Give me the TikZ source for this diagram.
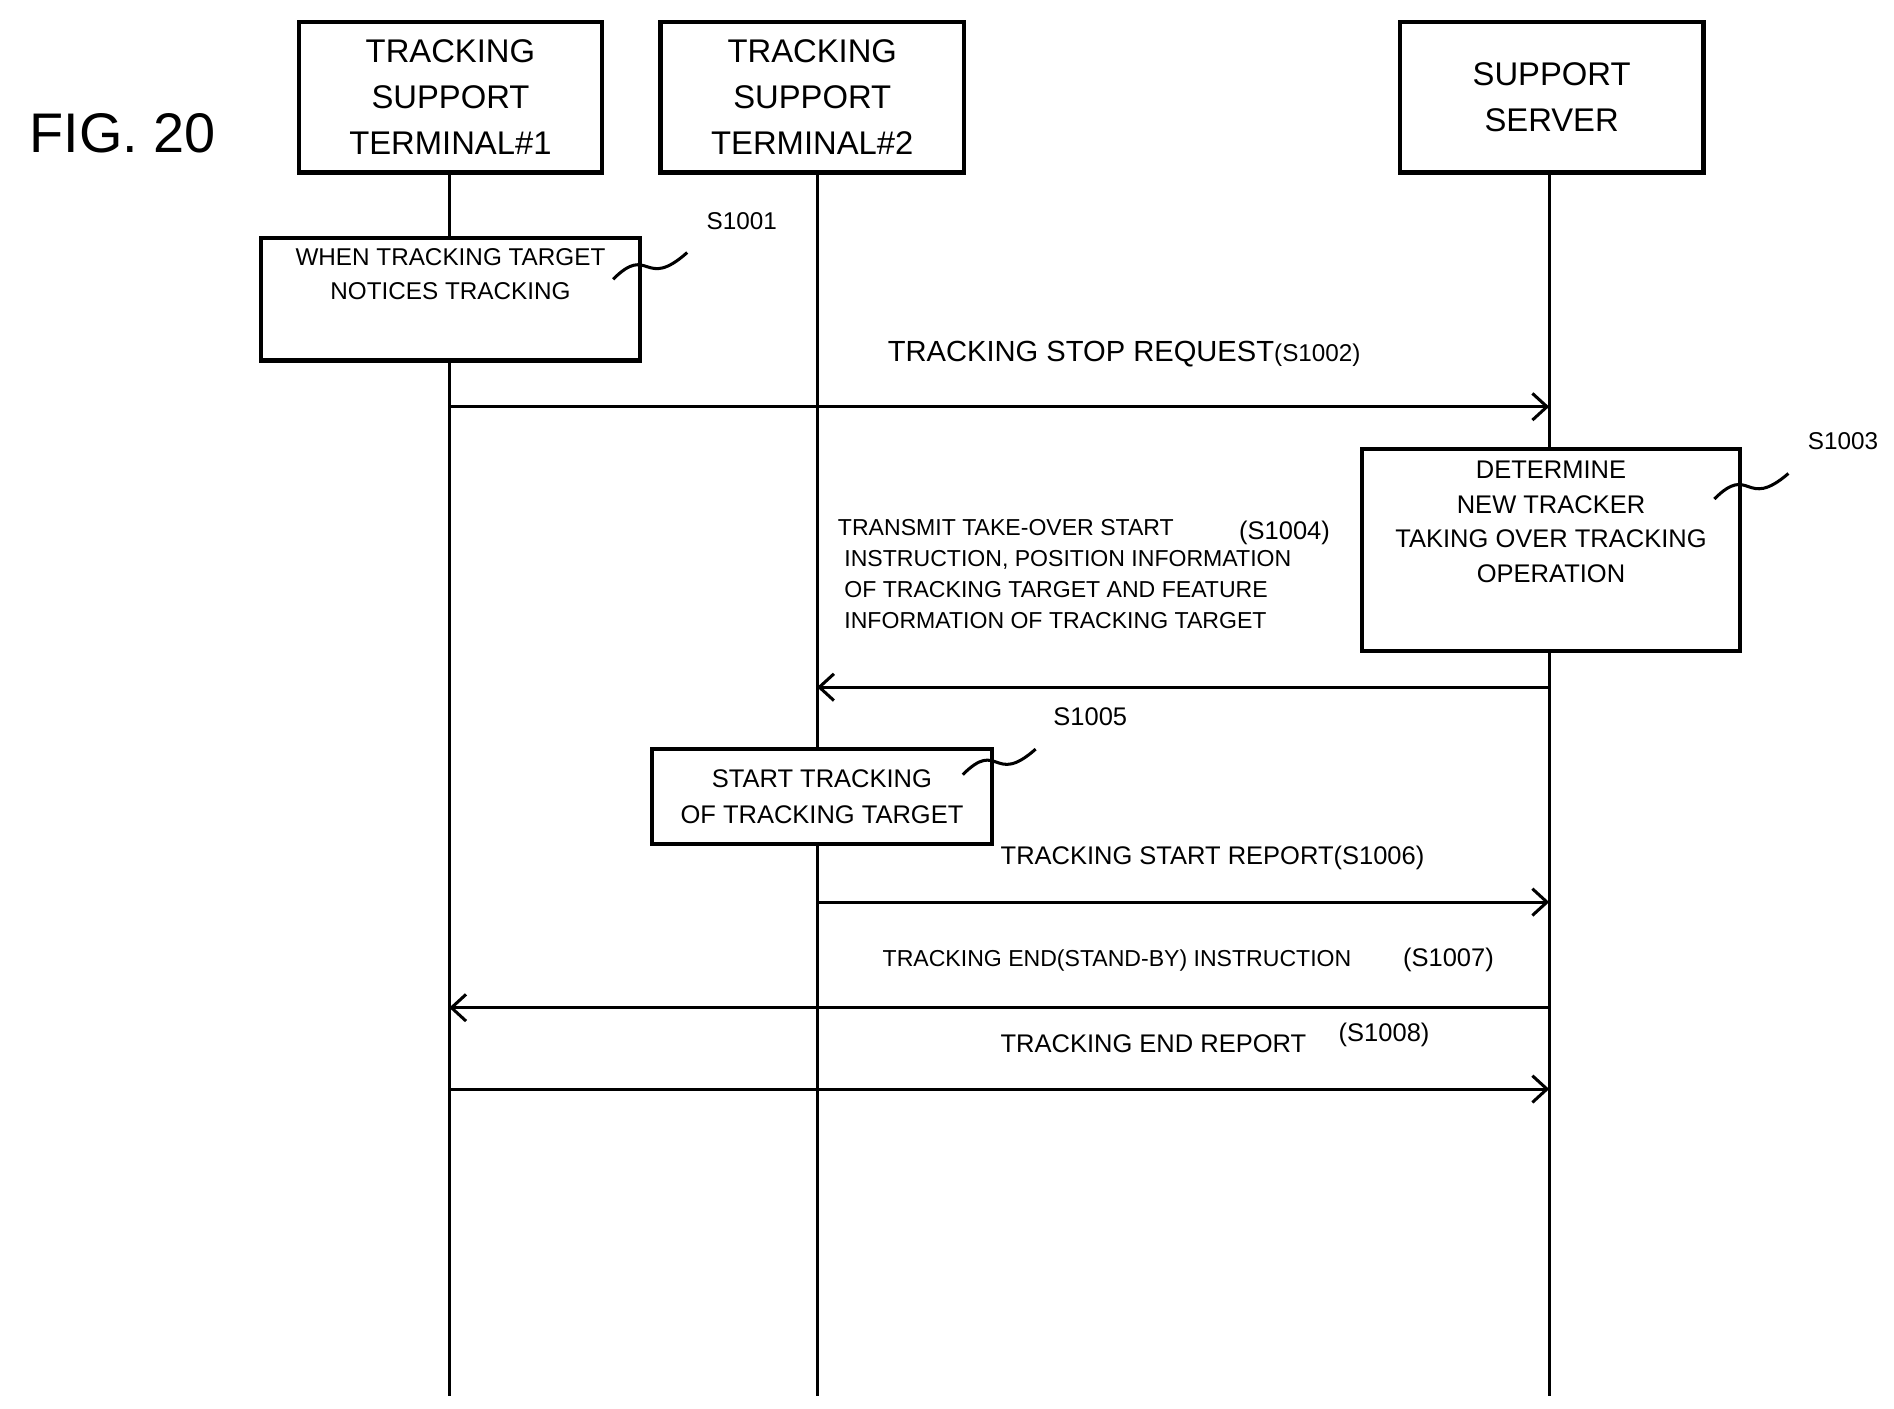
\documentclass[tikz,border=0pt]{standalone}
\usepackage{fontspec}
\setmainfont{Liberation Sans}
\usetikzlibrary{arrows.meta}
\begin{document}
\begin{tikzpicture}[x=1pt,y=-1pt,
  hdr/.style={draw,line width=3.5pt,minimum width=250pt,minimum height=124pt,align=center,font=\fontsize{27}{38}\selectfont,inner sep=0pt},
  proc/.style={draw,line width=3.5pt,align=center,inner sep=0pt},
  life/.style={line width=2.5pt},
  msg/.style={line width=2.5pt,-{Straight Barb[length=12pt,width=22pt,line width=2.5pt]}},
  lbl/.style={font=\fontsize{20}{26}\selectfont,inner sep=0pt},
  sq/.style={line width=2.5pt}]
\useasboundingbox (0,0) rectangle (1560,1160);
\node[font=\fontsize{46}{50}\selectfont] (fig) at (101,110) {FIG. 20};
\node[hdr] (t1) at (371,80) {TRACKING\\SUPPORT\\TERMINAL\#1};
\node[hdr] (t2) at (669,80) {TRACKING\\SUPPORT\\TERMINAL\#2};
\node[hdr] (sv) at (1278,80) {SUPPORT\\SERVER};
\coordinate (e1) at (370,1150);
\coordinate (e2) at (673,1150);
\coordinate (e3) at (1276,1150);
\draw[life] (370,142) -- (e1);
\draw[life] (673,142) -- (e2);
\draw[life] (1276,142) -- (e3);
% S1001
\node[proc,fill=white,minimum width=312pt,minimum height=101pt,font=\fontsize{20}{28}\selectfont] (b1) at (371,246.5) {WHEN TRACKING TARGET\\NOTICES TRACKING\\[14pt]};
\node[lbl] (s1) at (611,182) {S1001};
\coordinate (q1a) at (505,230); \coordinate (q1b) at (566,208);
\draw[sq] (q1a) .. controls (535,200) and (530,240) .. (q1b);
% S1002
\coordinate (a1s) at (370,335); \coordinate (a1e) at (1276,335);
\draw[msg] (a1s) -- (a1e);
\node[lbl,font=\fontsize{24}{28}\selectfont,anchor=base west] (l2) at (731,298) {TRACKING STOP REQUEST\fontsize{20}{24}\selectfont(S1002)};
% S1003
\node[proc,fill=white,minimum width=311pt,minimum height=166pt,font=\fontsize{21}{28.5}\selectfont] (b3) at (1277.5,453) {DETERMINE\\NEW TRACKER\\TAKING OVER TRACKING\\OPERATION\\[18pt]};
\node[lbl] (s3) at (1518,363) {S1003};
\coordinate (q3a) at (1412,411); \coordinate (q3b) at (1473,390);
\draw[sq] (q3a) .. controls (1442,381) and (1437,421) .. (q3b);
% S1004
\node[lbl,font=\fontsize{19}{25.5}\selectfont,align=left,anchor=north west] (l4) at (690,428) {TRANSMIT TAKE-OVER START\\\ INSTRUCTION, POSITION INFORMATION\\\ OF TRACKING TARGET AND FEATURE\\\ INFORMATION OF TRACKING TARGET};
\node[lbl,font=\fontsize{21}{24}\selectfont] (s4) at (1058,439) {(S1004)};
\coordinate (a2s) at (1276,566); \coordinate (a2e) at (673,566);
\draw[msg] (a2s) -- (a2e);
% S1005
\node[proc,fill=white,minimum width=280pt,minimum height=78pt,font=\fontsize{21}{30}\selectfont] (b5) at (677,656) {START TRACKING\\OF TRACKING TARGET};
\node[lbl,font=\fontsize{21}{24}\selectfont] (s5) at (898,590) {S1005};
\coordinate (q5a) at (793,638); \coordinate (q5b) at (853,617);
\draw[sq] (q5a) .. controls (823,608) and (818,648) .. (q5b);
% S1006
\node[lbl,font=\fontsize{21}{24}\selectfont,anchor=base west] (l6) at (824,712) {TRACKING START REPORT(S1006)};
\coordinate (a3s) at (673,743); \coordinate (a3e) at (1276,743);
\draw[msg] (a3s) -- (a3e);
% S1007
\node[lbl,font=\fontsize{19}{24}\selectfont] (l7) at (920,791) {TRACKING END(STAND-BY) INSTRUCTION};
\node[lbl,font=\fontsize{21}{24}\selectfont] (s7) at (1193,791) {(S1007)};
\coordinate (a4s) at (1276,830); \coordinate (a4e) at (370,830);
\draw[msg] (a4s) -- (a4e);
% S1008
\node[lbl,font=\fontsize{21}{24}\selectfont] (l8) at (950,860) {TRACKING END REPORT};
\node[lbl,font=\fontsize{21}{24}\selectfont] (s8) at (1140,852) {(S1008)};
\coordinate (a5s) at (370,897); \coordinate (a5e) at (1276,897);
\draw[msg] (a5s) -- (a5e);
\end{tikzpicture}
\end{document}
